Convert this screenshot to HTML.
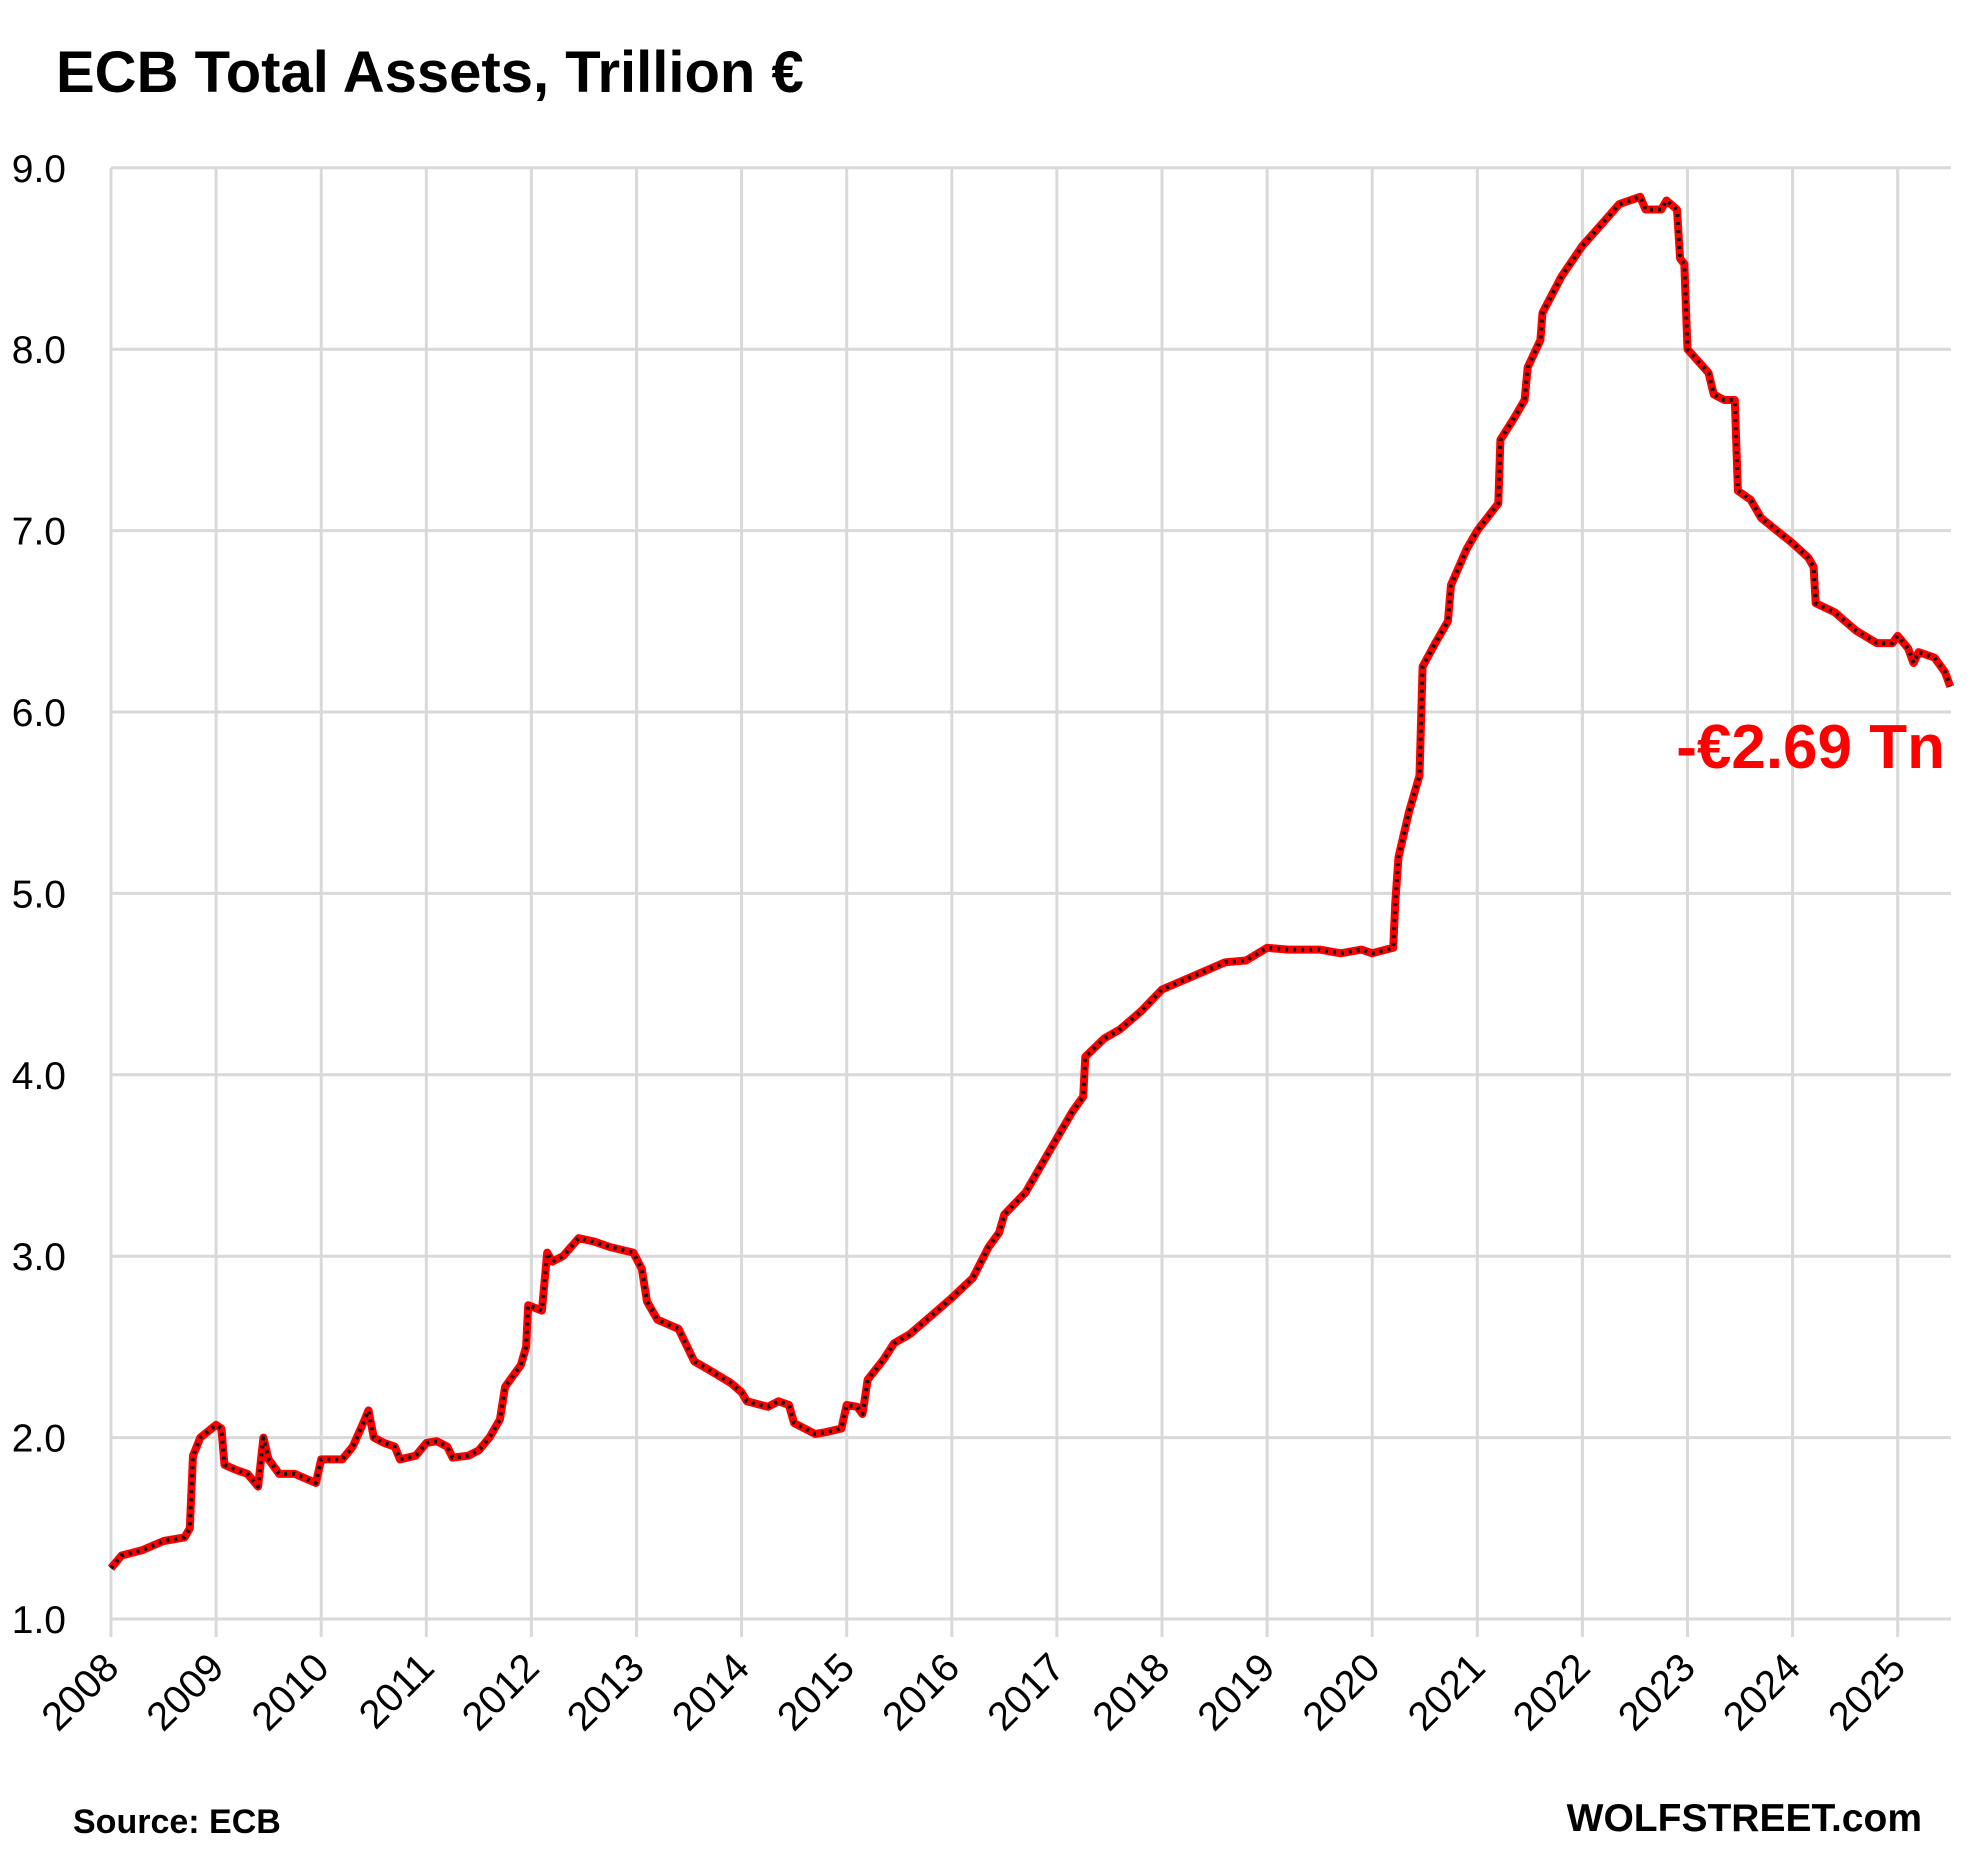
<!DOCTYPE html>
<html><head><style>
html,body{margin:0;padding:0;background:#fff;}
svg{display:block;font-family:"Liberation Sans",sans-serif;}
</style></head><body>
<svg id="s" width="1970" height="1853" xmlns="http://www.w3.org/2000/svg">
<rect width="1970" height="1853" fill="#fff"/>
<text x="56" y="92" font-size="58" font-weight="bold">ECB Total Assets, Trillion €</text>
<g id="grid" stroke="#d9d9d9" stroke-width="3"></g>
<g id="labels" font-size="39"></g>
<path id="red" fill="none" stroke="#ff0000" stroke-width="8" stroke-linejoin="round"/>
<path id="blk" fill="none" stroke="#111" stroke-width="4" stroke-dasharray="3 5" stroke-linejoin="round"/>
<text x="1945" y="768" font-size="62" font-weight="bold" fill="#ff0000" text-anchor="end">-€2.69 Tn</text>
<text x="73" y="1833" font-size="34" font-weight="bold">Source: ECB</text>
<text x="1922" y="1831" font-size="39" font-weight="bold" text-anchor="end">WOLFSTREET.com</text>
</svg>
<script>
var NS="http://www.w3.org/2000/svg";
function X(y){return 111+(y-2008)*105.1;}
function Y(v){return 1619-(v-1)*181.4;}
var g=document.getElementById('grid'),L=document.getElementById('labels');
function el(p,tag,a,t){var e=document.createElementNS(NS,tag);for(var k in a)e.setAttribute(k,a[k]);if(t)e.textContent=t;p.appendChild(e);}
for(var v=1;v<=9;v++){el(g,'line',{x1:111,x2:1951,y1:Y(v),y2:Y(v)});
 el(L,'text',{x:66,y:Y(v)+14,'text-anchor':'end'},v.toFixed(1));}
for(var y=2008;y<=2025;y++){var x=X(y);el(g,'line',{x1:x,x2:x,y1:Y(9),y2:1637});
 el(L,'text',{transform:'translate('+(x+10)+',1670) rotate(-45)','text-anchor':'end','font-size':'40'},String(y));}
var d=[2008.0,1.28,2008.1,1.35,2008.3,1.38,2008.5,1.43,2008.7,1.45,2008.75,1.5,2008.78,1.9,2008.85,2.0,2009.0,2.07,2009.05,2.05,2009.08,1.85,2009.2,1.82,2009.3,1.8,2009.4,1.73,2009.45,2.0,2009.5,1.88,2009.6,1.8,2009.75,1.8,2009.95,1.75,2010.0,1.88,2010.2,1.88,2010.3,1.95,2010.4,2.08,2010.45,2.15,2010.5,2.0,2010.6,1.97,2010.7,1.95,2010.75,1.88,2010.9,1.9,2011.0,1.97,2011.1,1.98,2011.2,1.95,2011.25,1.89,2011.4,1.9,2011.5,1.93,2011.6,2.0,2011.7,2.1,2011.75,2.28,2011.9,2.4,2011.95,2.5,2011.97,2.73,2012.1,2.7,2012.15,3.02,2012.2,2.97,2012.3,3.0,2012.45,3.1,2012.6,3.08,2012.75,3.05,2012.97,3.02,2013.05,2.93,2013.1,2.75,2013.2,2.65,2013.4,2.6,2013.55,2.42,2013.7,2.37,2013.9,2.3,2014.0,2.25,2014.05,2.2,2014.25,2.17,2014.35,2.2,2014.45,2.18,2014.5,2.08,2014.7,2.02,2014.8,2.03,2014.95,2.05,2015.0,2.18,2015.1,2.17,2015.15,2.13,2015.2,2.32,2015.35,2.43,2015.45,2.52,2015.6,2.57,2015.8,2.67,2016.0,2.77,2016.2,2.88,2016.35,3.05,2016.45,3.13,2016.5,3.23,2016.7,3.35,2016.9,3.55,2017.0,3.65,2017.15,3.8,2017.25,3.88,2017.27,4.1,2017.45,4.2,2017.6,4.25,2017.8,4.35,2018.0,4.47,2018.2,4.52,2018.4,4.57,2018.6,4.62,2018.8,4.63,2019.0,4.7,2019.2,4.69,2019.5,4.69,2019.7,4.67,2019.9,4.69,2020.0,4.67,2020.2,4.7,2020.22,4.95,2020.25,5.2,2020.35,5.45,2020.45,5.65,2020.48,6.25,2020.6,6.38,2020.72,6.5,2020.75,6.7,2020.9,6.9,2021.0,7.0,2021.2,7.15,2021.22,7.5,2021.35,7.62,2021.45,7.72,2021.48,7.9,2021.6,8.05,2021.62,8.2,2021.8,8.4,2022.0,8.57,2022.2,8.7,2022.35,8.8,2022.55,8.84,2022.6,8.77,2022.75,8.77,2022.8,8.82,2022.9,8.77,2022.93,8.5,2022.97,8.47,2023.0,8.0,2023.2,7.87,2023.25,7.75,2023.35,7.72,2023.45,7.72,2023.48,7.22,2023.6,7.17,2023.7,7.07,2023.85,7.0,2024.0,6.93,2024.15,6.85,2024.2,6.8,2024.22,6.6,2024.4,6.55,2024.6,6.45,2024.8,6.38,2024.95,6.38,2025.0,6.42,2025.1,6.35,2025.15,6.27,2025.2,6.33,2025.35,6.3,2025.45,6.22,2025.5,6.14];
var p='';for(var i=0;i<d.length;i+=2){p+=(i?'L':'M')+X(d[i]).toFixed(1)+' '+Y(d[i+1]).toFixed(1);}
document.getElementById('red').setAttribute('d',p);document.getElementById('blk').setAttribute('d',p);
</script>
</body></html>
